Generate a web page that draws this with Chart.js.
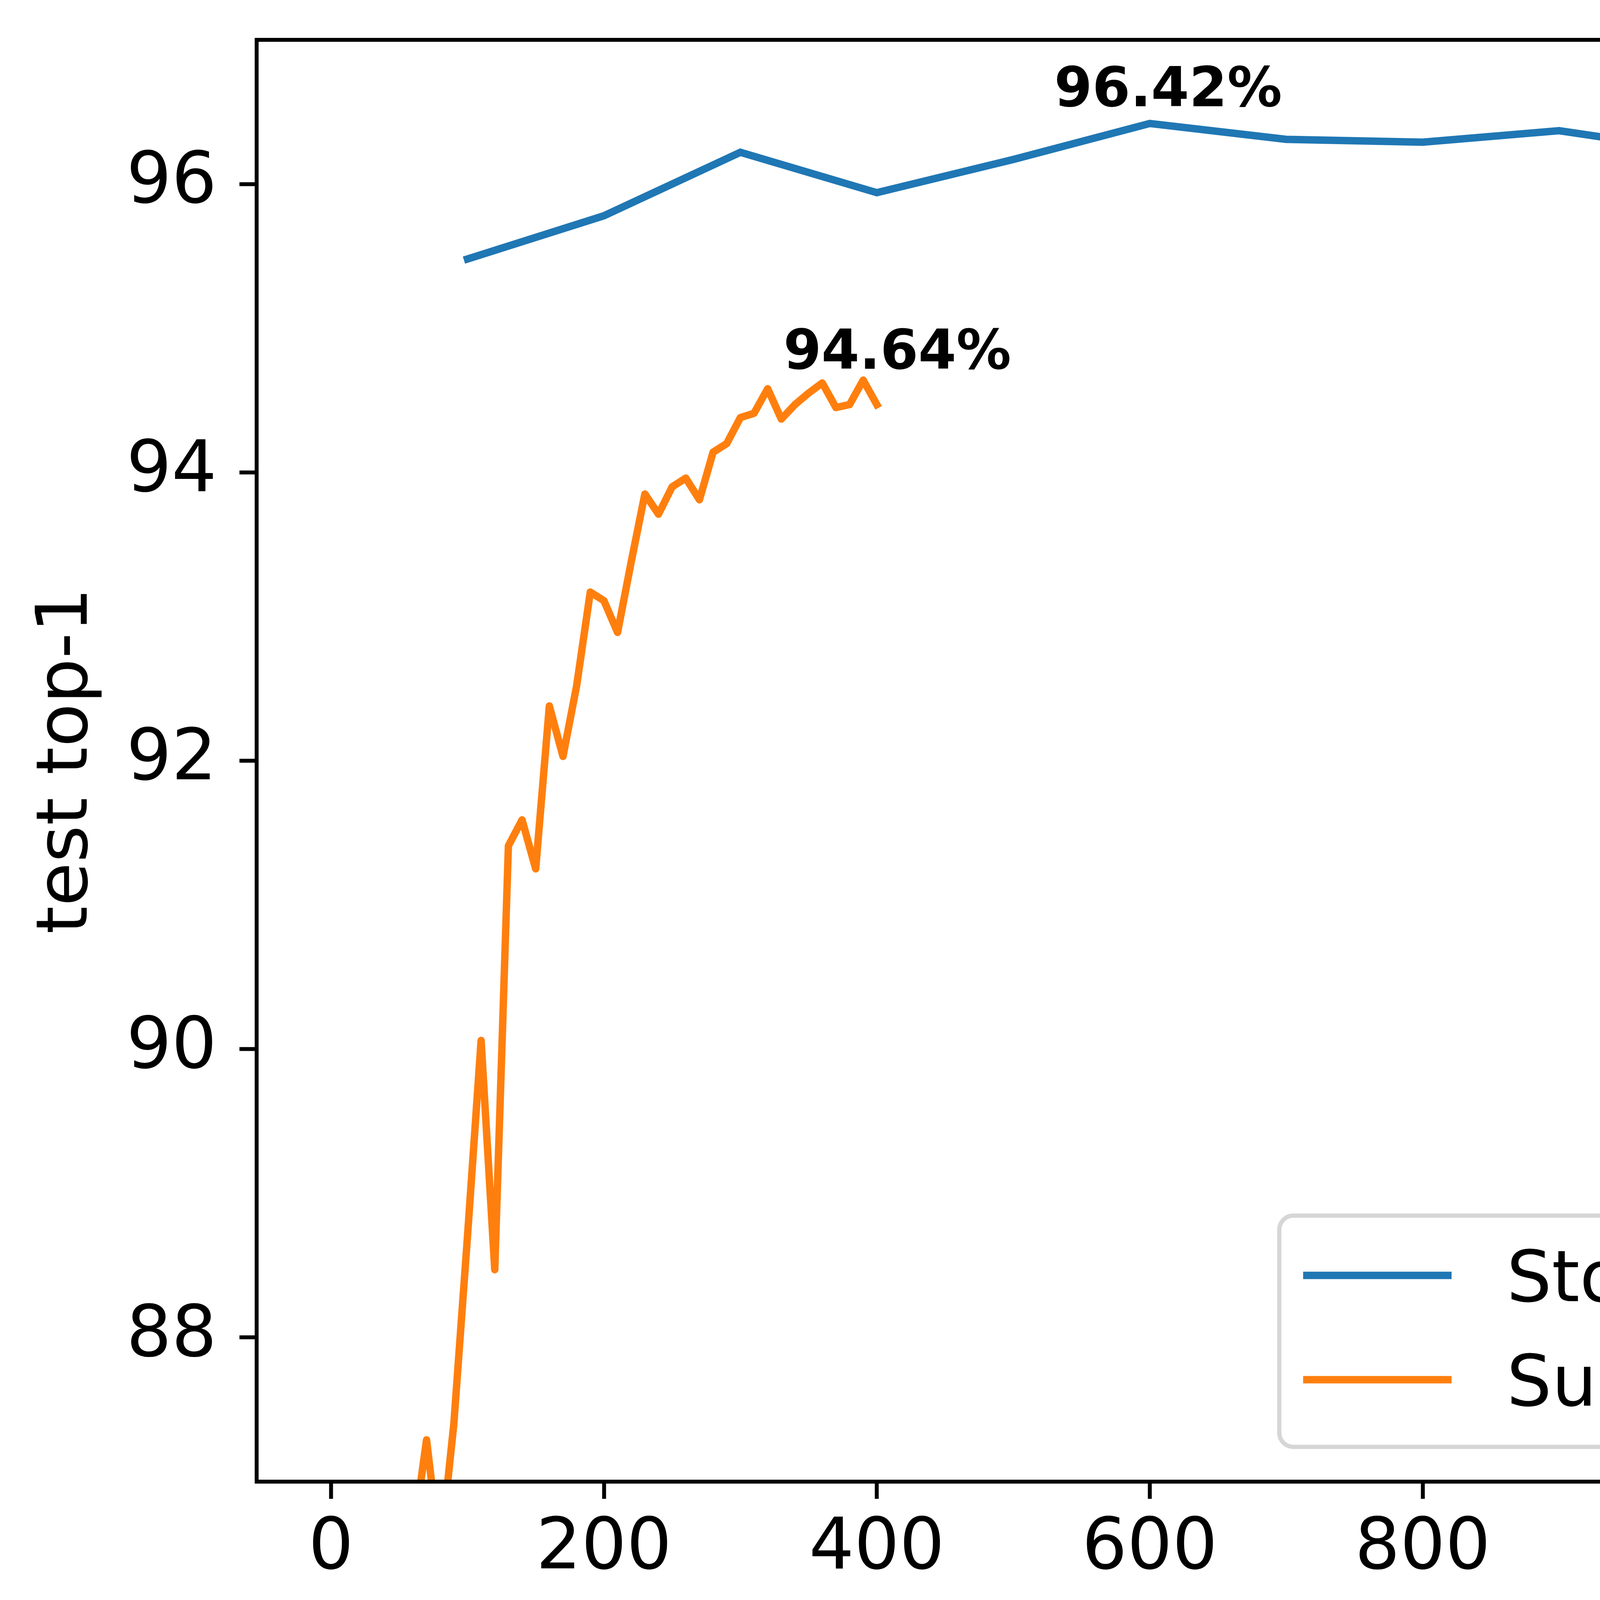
<!DOCTYPE html>
<html>
<head>
<meta charset="utf-8">
<script src="https://cdn.jsdelivr.net/npm/chart.js@4.4.1/dist/chart.umd.min.js"></script>
<style>
    html, body { margin: 0; padding: 0; background: #fff; }
    canvas { display: block; }
</style>
</head>
<body>
<canvas id="lineChart" width="5718" height="4400"></canvas>
<script>
// values
const seriesNames = ['StochCon Bern FT', 'Supervised Bern'];

const blueEpochs = [100, 200, 300, 400, 500, 600, 700, 800, 900, 1000, 1100, 1200, 1300];
const blueAcc = [95.48, 95.78, 96.22, 95.94, 96.17, 96.42, 96.31, 96.29, 96.37, 96.23, 96.14, 95.95, 95.11];

const orangeEpochs = [60, 70, 80, 90, 100, 110, 120, 130, 140, 150, 160, 170, 180, 190, 200,
    210, 220, 230, 240, 250, 260, 270, 280, 290, 300, 310, 320, 330, 340, 350, 360, 370, 380, 390, 400];
const orangeAcc = [86.6, 87.29, 86.5, 87.4, 88.7, 90.06, 88.47, 91.41, 91.59, 91.25, 92.38, 92.03, 92.52, 93.17, 93.11,
    92.89, 93.38, 93.85, 93.71, 93.90, 93.96, 93.81, 94.14, 94.20, 94.38, 94.41, 94.58, 94.37, 94.47, 94.55, 94.62, 94.45, 94.47, 94.64, 94.47];

const xTicks = [0, 200, 400, 600, 800, 1000, 1200];
const yTicks = [88, 90, 92, 94, 96];

const BLUE = '#1f77b4';
const ORANGE = '#ff7f0e';
const FONT = 'DejaVu Sans';

Chart.defaults.font.family = FONT;
Chart.defaults.color = '#000';

function toPoints(xs, ys) {
    return xs.map((x, i) => ({ x: x, y: ys[i] }));
}

// where the "best value" label sits relative to the peak (data units)
const peakLabelOffset = [{ dx: -70, dy: 0.12 }, { dx: -58.5, dy: 0.08 }];

const overlayPlugin = {
    id: 'overlay',
    afterDraw(chart) {
        const ctx = chart.ctx;
        const area = chart.chartArea;
        const xs = chart.scales.x;
        const ys = chart.scales.y;

        // axes frame
        ctx.save();
        ctx.strokeStyle = '#000';
        ctx.lineWidth = 10;
        ctx.strokeRect(area.left, area.top, area.right - area.left, area.bottom - area.top);
        ctx.restore();

        // peak labels
        chart.data.datasets.forEach((ds, i) => {
            let best = ds.data[0];
            ds.data.forEach(p => { if (p.y > best.y) best = p; });
            const off = peakLabelOffset[i];
            ctx.save();
            ctx.font = 'bold 140px "' + FONT + '"';
            ctx.fillStyle = '#000';
            ctx.textAlign = 'left';
            ctx.textBaseline = 'alphabetic';
            ctx.fillText(best.y.toFixed(2) + '%', xs.getPixelForValue(best.x + off.dx), ys.getPixelForValue(best.y + off.dy));
            ctx.restore();
        });

        // legend, lower right
        const bx1 = area.right - 86, by1 = area.bottom - 89;
        const bx0 = bx1 - 2253, by0 = by1 - 592;
        const r = 36;
        ctx.save();
        ctx.beginPath();
        ctx.moveTo(bx0 + r, by0);
        ctx.arcTo(bx1, by0, bx1, by1, r);
        ctx.arcTo(bx1, by1, bx0, by1, r);
        ctx.arcTo(bx0, by1, bx0, by0, r);
        ctx.arcTo(bx0, by0, bx1, by0, r);
        ctx.closePath();
        ctx.fillStyle = 'rgba(255,255,255,0.8)';
        ctx.fill();
        ctx.strokeStyle = 'rgba(204,204,204,0.8)';
        ctx.lineWidth = 11;
        ctx.stroke();

        const rowY = [by0 + 153, by0 + 420];
        chart.data.datasets.forEach((ds, i) => {
            ctx.beginPath();
            ctx.strokeStyle = ds.borderColor;
            ctx.lineWidth = 19;
            ctx.lineCap = 'butt';
            ctx.moveTo(bx0 + 61, rowY[i]);
            ctx.lineTo(bx0 + 441, rowY[i]);
            ctx.stroke();
            ctx.font = '182px "' + FONT + '"';
            ctx.fillStyle = '#000';
            ctx.textAlign = 'left';
            ctx.textBaseline = 'alphabetic';
            ctx.fillText(ds.label, bx0 + 582, rowY[i] + 66);
        });
        ctx.restore();
    }
};

const ctx = document.getElementById('lineChart').getContext('2d');
const lineChart = new Chart(ctx, {
    type: 'line',
    data: {
        datasets: [{
            label: seriesNames[0],
            data: toPoints(blueEpochs, blueAcc),
            borderColor: BLUE,
            borderWidth: 19,
            borderCapStyle: 'square',
            borderJoinStyle: 'miter',
            pointRadius: 0,
            tension: 0,
            fill: false,
            clip: 0
        }, {
            label: seriesNames[1],
            data: toPoints(orangeEpochs, orangeAcc),
            borderColor: ORANGE,
            borderWidth: 19,
            borderCapStyle: 'square',
            borderJoinStyle: 'round',
            pointRadius: 0,
            tension: 0,
            fill: false,
            clip: 0
        }]
    },
    options: {
        responsive: false,
        devicePixelRatio: 1,
        animation: false,
        events: [],
        layout: { padding: { left: 0, top: 102, right: 104, bottom: 0 } },
        plugins: {
            legend: { display: false },
            tooltip: { enabled: false }
        },
        scales: {
            x: {
                type: 'linear',
                min: -54.5,
                max: 1364.5,
                afterBuildTicks: s => { s.ticks = xTicks.map(v => ({ value: v })); },
                afterFit: s => { s.height = 607; s.paddingLeft = 0; s.paddingRight = 0; },
                border: { display: false },
                grid: {
                    drawOnChartArea: false,
                    drawTicks: true,
                    tickLength: 44,
                    tickWidth: 10,
                    tickColor: '#000'
                },
                ticks: {
                    font: { size: 182 },
                    color: '#000',
                    padding: 22,
                    maxRotation: 0,
                    autoSkip: false
                },
                title: {
                    display: true,
                    text: 'epoch',
                    font: { size: 182 },
                    color: '#000',
                    padding: { top: 0, bottom: 92 }
                }
            },
            y: {
                type: 'linear',
                min: 87,
                max: 97,
                afterBuildTicks: s => { s.ticks = yTicks.map(v => ({ value: v })); },
                afterFit: s => { s.width = 657; s.paddingTop = 0; s.paddingBottom = 0; },
                border: { display: false },
                grid: {
                    drawOnChartArea: false,
                    drawTicks: true,
                    tickLength: 44,
                    tickWidth: 10,
                    tickColor: '#000'
                },
                ticks: {
                    font: { size: 182 },
                    color: '#000',
                    padding: 58,
                    autoSkip: false
                },
                title: {
                    display: true,
                    text: 'test top-1',
                    font: { size: 182 },
                    color: '#000',
                    padding: { top: 66, bottom: 0 }
                }
            }
        }
    },
    plugins: [overlayPlugin]
});
</script>
</body>
</html>
